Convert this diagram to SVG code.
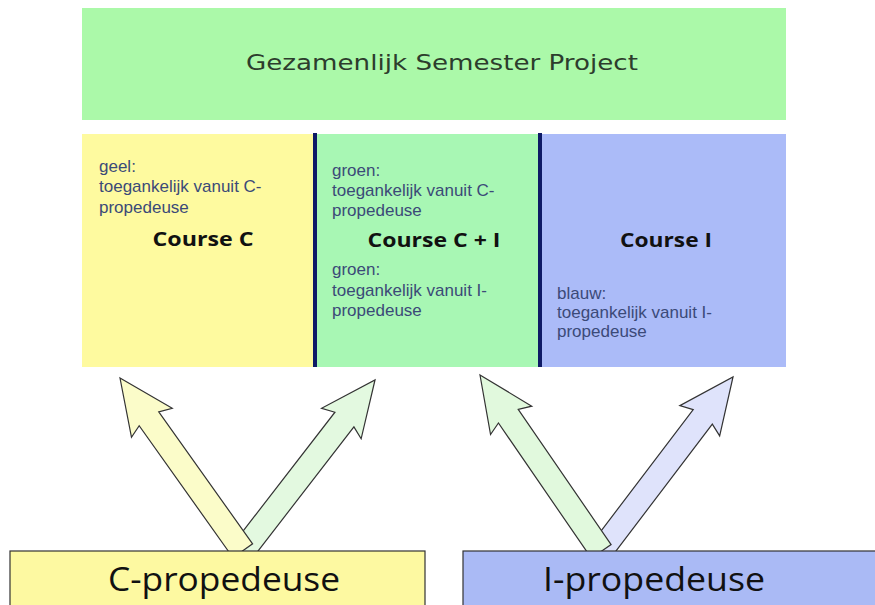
<svg xmlns="http://www.w3.org/2000/svg" width="875" height="605" viewBox="0 0 875 605">
<style>
.small{font-family:"Liberation Sans",Arial,sans-serif;font-size:17px;fill:#3b4a78}
.title{font-family:"Open Sans","Noto Sans",sans-serif;font-weight:bold;font-size:19px;fill:#111;text-anchor:middle}
.big{font-family:"Open Sans","Noto Sans",sans-serif;font-size:32px;fill:#111;text-anchor:middle}
.arrow{stroke:#333;stroke-width:1.2;stroke-linejoin:miter}
.div{stroke:#0e1a66;stroke-width:4}
</style>
<rect width="875" height="605" fill="#ffffff"/>
<g id="project">
<rect x="82" y="8" width="704" height="112" fill="#abf9a9"/>
<text x="442" y="70" text-anchor="middle" font-family="DejaVu Sans,sans-serif" font-size="22" fill="#2d3d2d" textLength="392" lengthAdjust="spacingAndGlyphs">Gezamenlijk Semester Project</text>
</g>
<g id="courseC">
<rect x="82" y="134" width="232" height="233" fill="#fefa9f"/>
<text class="small" x="99" y="172">geel:</text>
<text class="small" x="99" y="192">toegankelijk vanuit C-</text>
<text class="small" x="99" y="213">propedeuse</text>
<text class="title" x="203" y="246" textLength="101" lengthAdjust="spacingAndGlyphs">Course C</text>
</g>
<g id="courseCI">
<rect x="314" y="134" width="227" height="233" fill="#a8f7b4"/>
<text class="small" x="332" y="176">groen:</text>
<text class="small" x="332" y="196">toegankelijk vanuit C-</text>
<text class="small" x="332" y="216">propedeuse</text>
<text class="title" x="434" y="247" textLength="133" lengthAdjust="spacingAndGlyphs">Course C + I</text>
<text class="small" x="332" y="275">groen:</text>
<text class="small" x="332" y="296">toegankelijk vanuit I-</text>
<text class="small" x="332" y="316">propedeuse</text>
</g>
<g id="courseI">
<rect x="541" y="134" width="245" height="233" fill="#abbbf8"/>
<text class="title" x="666" y="247" textLength="92" lengthAdjust="spacingAndGlyphs">Course I</text>
<text class="small" x="557" y="299">blauw:</text>
<text class="small" x="557" y="318">toegankelijk vanuit I-</text>
<text class="small" x="557" y="337">propedeuse</text>
</g>
<g id="dividers">
<line class="div" x1="315" y1="133" x2="315" y2="367"/>
<line class="div" x1="540" y1="133" x2="540" y2="367"/>
</g>
<g id="connectors">
<polygon class="arrow" fill="#e3f9e0" transform="translate(375,380) rotate(37.7)" points="0,0 25,55 12,50 12,216 -12,216 -12,50 -25,55"/>
<polygon class="arrow" fill="#fbfcc9" transform="translate(120,378) rotate(-35.4)" points="0,0 25,55 12,50 12,212 -12,212 -12,50 -25,55"/>
<polygon class="arrow" fill="#dfe3fb" transform="translate(733,377) rotate(37.2)" points="0,0 25,55 12,50 12,218 -12,218 -12,50 -25,55"/>
<polygon class="arrow" fill="#e1f9dd" transform="translate(480,375) rotate(-34.5)" points="0,0 25,55 12,50 12,214 -12,214 -12,50 -25,55"/>
</g>
<g id="cpropedeuse">
<rect x="10" y="551" width="415" height="60" fill="#fdf9a1" stroke="#333" stroke-width="1.2"/>
<text class="big" x="224" y="591" textLength="232" lengthAdjust="spacingAndGlyphs">C-propedeuse</text>
</g>
<g id="ipropedeuse">
<rect x="463" y="551" width="420" height="60" fill="#aabaf5" stroke="#333" stroke-width="1.2"/>
<text class="big" x="654" y="591" textLength="222" lengthAdjust="spacingAndGlyphs">I-propedeuse</text>
</g>
</svg>
